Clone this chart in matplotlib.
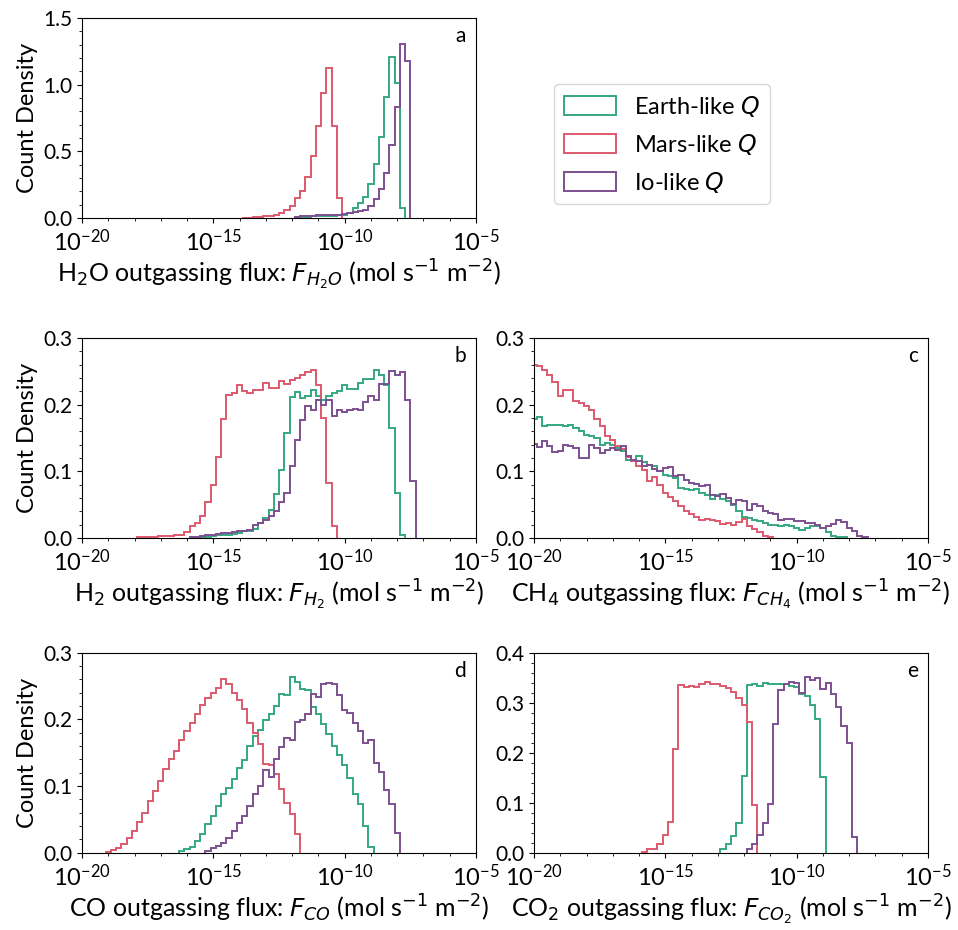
import numpy as np
import matplotlib
matplotlib.use("Agg")
import matplotlib.pyplot as plt
from matplotlib.ticker import AutoMinorLocator, NullFormatter

plt.rcParams['font.family'] = ['Lato', 'DejaVu Sans']
plt.rcParams['xtick.labelsize'] = 17
plt.rcParams['ytick.labelsize'] = 15
plt.rcParams['xtick.major.pad'] = 4

# bins are 0.2 dex wide; each series = (log10 of first bin edge, heights)
BIN = 0.2
labels = ['Earth-like $Q$', 'Mars-like $Q$', 'Io-like $Q$']
colors = ['#34a880', '#de5a6e', '#7d5091']

# H2O
h2o_earth_start = -11.9
h2o_earth = [0.008, 0.01, 0.01, 0.012, 0.012, 0.015, 0.015, 0.018, 0.02, 0.025,
             0.04, 0.075, 0.11, 0.16, 0.255, 0.405, 0.61, 0.91, 1.21, 1.01, 0.075]
h2o_mars_start = -13.9
h2o_mars = [0.002, 0.003, 0.005, 0.0075, 0.0125, 0.0175, 0.025, 0.0375, 0.0575, 0.0875,
            0.15, 0.2, 0.305, 0.4675, 0.6925, 0.9375, 1.1275, 0.6925, 0.15]
h2o_io_start = -11.9
h2o_io = [0.01, 0.015, 0.015, 0.018, 0.02, 0.02, 0.022, 0.025, 0.025, 0.03, 0.035,
          0.045, 0.05, 0.06, 0.09, 0.145, 0.22, 0.34, 0.545, 0.83, 1.305, 1.175]

# H2
h2_earth_start = -15.7
h2_earth = [0.001, 0.002, 0.002, 0.003, 0.004, 0.005, 0.005, 0.006, 0.007,
            0.01, 0.01, 0.014, 0.0225, 0.03, 0.0425, 0.066, 0.1025, 0.1575, 0.211,
            0.2185, 0.21, 0.2125, 0.2225, 0.2125, 0.2075, 0.2125, 0.2175, 0.22, 0.229,
            0.224, 0.224, 0.2325, 0.239, 0.239, 0.2525, 0.245, 0.23, 0.165, 0.0675, 0.005]
h2_mars_start = -17.9
h2_mars = [0.001, 0.0015, 0.002, 0.002, 0.0025, 0.003, 0.003, 0.004,
           0.005, 0.009, 0.0175, 0.023, 0.0325, 0.054, 0.08, 0.121, 0.179, 0.214,
           0.218, 0.23, 0.221, 0.2175, 0.222, 0.222, 0.2325, 0.225, 0.225, 0.235,
           0.2315, 0.2375, 0.24, 0.245, 0.249, 0.2515, 0.23, 0.18, 0.0825, 0.0175]
h2_io_start = -15.9
h2_io = [0.001, 0.002, 0.003, 0.004, 0.005, 0.006, 0.007, 0.008, 0.009,
         0.01, 0.01, 0.012, 0.02, 0.0225, 0.0275, 0.0325, 0.04, 0.0535, 0.0675,
         0.1075, 0.1475, 0.1775, 0.1975, 0.1925, 0.2065, 0.2, 0.2075, 0.1825, 0.1925,
         0.189, 0.1925, 0.194, 0.1925, 0.2035, 0.2125, 0.2075, 0.231, 0.231, 0.25,
         0.244, 0.249, 0.2075, 0.085]

# CH4
ch4_earth_start = -20.1
ch4_earth = [0.1785, 0.1815, 0.1675, 0.17, 0.17, 0.17, 0.1675, 0.17, 0.165, 0.16,
             0.155, 0.1535, 0.15, 0.14, 0.1425, 0.139, 0.135, 0.13, 0.1175, 0.115,
             0.1225, 0.114, 0.11, 0.1075, 0.1, 0.095, 0.0935, 0.09, 0.075, 0.0735,
             0.0725, 0.0735, 0.0675, 0.064, 0.0585, 0.065, 0.0585, 0.055, 0.05, 0.04,
             0.031, 0.03, 0.0265, 0.025, 0.0225, 0.02, 0.019, 0.0175, 0.02, 0.0175,
             0.015, 0.0125, 0.015, 0.0175, 0.0175, 0.015, 0.0085, 0.0035, 0.0015, 0.001]
ch4_mars_start = -20.1
ch4_mars = [0.26, 0.2585, 0.2515, 0.245, 0.234, 0.2135, 0.2215, 0.2215, 0.205, 0.2025,
            0.1985, 0.1925, 0.1785, 0.1675, 0.1535, 0.1475, 0.1375, 0.134, 0.121, 0.115,
            0.1075, 0.1015, 0.085, 0.0915, 0.08, 0.0675, 0.061, 0.055, 0.0475, 0.04,
            0.036, 0.031, 0.0275, 0.029, 0.0275, 0.025, 0.0215, 0.0225, 0.02, 0.0235,
            0.029, 0.0175, 0.0135, 0.0085, 0.0035, 0.001]
ch4_io_start = -20.1
ch4_io = [0.1415, 0.1365, 0.145, 0.1375, 0.1285, 0.13, 0.14, 0.1375, 0.135, 0.12,
          0.12, 0.14, 0.135, 0.1275, 0.1325, 0.135, 0.1325, 0.1375, 0.1235, 0.1175,
          0.115, 0.1075, 0.11, 0.1035, 0.1, 0.105, 0.106, 0.0925, 0.095, 0.0875,
          0.0825, 0.0815, 0.0775, 0.08, 0.064, 0.0625, 0.066, 0.06, 0.0515, 0.0565,
          0.055, 0.0425, 0.051, 0.0475, 0.04, 0.0375, 0.036, 0.0275, 0.029, 0.029,
          0.025, 0.026, 0.0225, 0.0225, 0.02, 0.015, 0.0175, 0.021, 0.0275, 0.0235,
          0.015, 0.01, 0.0025, 0.001]

# CO
co_earth_start = -16.3
co_earth = [0.0025, 0.005, 0.0085, 0.0175, 0.0285, 0.0425, 0.055, 0.07, 0.0885, 0.0965,
            0.11, 0.1275, 0.1385, 0.16, 0.175, 0.1835, 0.1985, 0.2075, 0.22, 0.2385,
            0.2365, 0.2635, 0.2565, 0.246, 0.2435, 0.2185, 0.2075, 0.1935, 0.1775, 0.16,
            0.1465, 0.1315, 0.1125, 0.0875, 0.0735, 0.04, 0.0085]
co_mars_start = -19.1
co_mars = [0.001, 0.0035, 0.0075, 0.0125, 0.0215, 0.0325, 0.0465, 0.06, 0.0775, 0.0925,
           0.1075, 0.125, 0.141, 0.1525, 0.1685, 0.1825, 0.195, 0.2075, 0.2215, 0.2315,
           0.24, 0.2475, 0.261, 0.2525, 0.24, 0.2285, 0.215, 0.195, 0.18, 0.1625,
           0.1335, 0.1315, 0.1175, 0.096, 0.075, 0.0575, 0.0275]
co_io_start = -15.3
co_io = [0.0025, 0.0075, 0.01, 0.015, 0.0225, 0.0325, 0.045, 0.055, 0.07, 0.0885,
         0.1, 0.1235, 0.1135, 0.14, 0.1585, 0.1725, 0.1685, 0.196, 0.1985, 0.2085,
         0.2385, 0.2335, 0.2525, 0.254, 0.2525, 0.236, 0.2135, 0.21, 0.195, 0.1825,
         0.165, 0.1685, 0.135, 0.121, 0.094, 0.0735, 0.029]

# CO2
co2_earth_start = -12.9
co2_earth = [0.0067, 0.018, 0.0333, 0.0587, 0.1533, 0.3353, 0.3367, 0.3333, 0.34, 0.3367,
             0.3367, 0.3367, 0.338, 0.3333, 0.3313, 0.3167, 0.3133, 0.2953, 0.2667, 0.1513]
co2_mars_start = -15.9
co2_mars = [0.002, 0.0067, 0.008, 0.0167, 0.0353, 0.062, 0.208, 0.3347, 0.332, 0.3333,
            0.332, 0.3367, 0.3407, 0.338, 0.3367, 0.3333, 0.33, 0.322, 0.31, 0.2953,
            0.2613, 0.0953]
co2_io_start = -11.9
co2_io = [0.0067, 0.018, 0.0347, 0.06, 0.0967, 0.258, 0.3247, 0.3367, 0.342, 0.3387,
          0.32, 0.3513, 0.3447, 0.3487, 0.3267, 0.34, 0.318, 0.2913, 0.2533, 0.22, 0.032]


def step_hist(ax, start, heights, color, label=None):
    edges = start + BIN * np.arange(len(heights) + 1)
    centers = 10 ** ((edges[:-1] + edges[1:]) / 2)
    ax.hist(centers, bins=10 ** edges, weights=heights, histtype='step',
            color=color, lw=1.4, label=label)


def style(ax, ymax, major, letter, xlabel, ylabel=True):
    ax.set_xscale('log')
    ax.set_xlim(1e-20, 1e-5)
    ax.set_ylim(0, ymax)
    ax.set_xticks([1e-20, 1e-15, 1e-10, 1e-5])
    ax.set_xticks(10.0 ** np.arange(-20, -4), minor=True)
    ax.xaxis.set_minor_formatter(NullFormatter())
    ax.set_yticks(np.arange(0, ymax + 1e-9, major))
    ax.yaxis.set_minor_locator(AutoMinorLocator(5))
    ax.yaxis.set_major_formatter(plt.FormatStrFormatter('%.1f'))
    ax.text(0.975, 0.96, letter, transform=ax.transAxes, ha='right', va='top', fontsize=15)
    ax.set_xlabel(xlabel, fontsize=18, labelpad=2)
    if ylabel:
        ax.set_ylabel('Count Density', fontsize=17)


fig = plt.figure(figsize=(9.58, 9.30), dpi=100)
w, h = 0.4113, 0.2151
ax_a = fig.add_axes([0.0856, 0.7656, w, h])
ax_b = fig.add_axes([0.0856, 0.4215, w, h])
ax_c = fig.add_axes([0.5574, 0.4215, w, h])
ax_d = fig.add_axes([0.0856, 0.0830, w, h])
ax_e = fig.add_axes([0.5574, 0.0830, w, h])

panels = [
    (ax_a, [(h2o_earth_start, h2o_earth), (h2o_mars_start, h2o_mars), (h2o_io_start, h2o_io)]),
    (ax_b, [(h2_earth_start, h2_earth), (h2_mars_start, h2_mars), (h2_io_start, h2_io)]),
    (ax_c, [(ch4_earth_start, ch4_earth), (ch4_mars_start, ch4_mars), (ch4_io_start, ch4_io)]),
    (ax_d, [(co_earth_start, co_earth), (co_mars_start, co_mars), (co_io_start, co_io)]),
    (ax_e, [(co2_earth_start, co2_earth), (co2_mars_start, co2_mars), (co2_io_start, co2_io)]),
]
for ax, series in panels:
    for (start, heights), c, lab in zip(series, colors, labels):
        step_hist(ax, start, heights, c, lab)

unit = r' (mol s$^{-1}$ m$^{-2}$)'
style(ax_a, 1.5, 0.5, 'a', r'H$_2$O outgassing flux: $F_{H_2O}$' + unit)
style(ax_b, 0.3, 0.1, 'b', r'H$_2$ outgassing flux: $F_{H_2}$' + unit)
style(ax_c, 0.3, 0.1, 'c', r'CH$_4$ outgassing flux: $F_{CH_4}$' + unit, ylabel=False)
style(ax_d, 0.3, 0.1, 'd', r'CO outgassing flux: $F_{CO}$' + unit)
style(ax_e, 0.4, 0.1, 'e', r'CO$_2$ outgassing flux: $F_{CO_2}$' + unit, ylabel=False)

handles, labs = ax_a.get_legend_handles_labels()
fig.legend(handles, labs, loc='center', bbox_to_anchor=(0.691, 0.845), fontsize=17,
           handlelength=2.2, handleheight=0.85, labelspacing=0.55)

fig.savefig('out.png', dpi=100)
